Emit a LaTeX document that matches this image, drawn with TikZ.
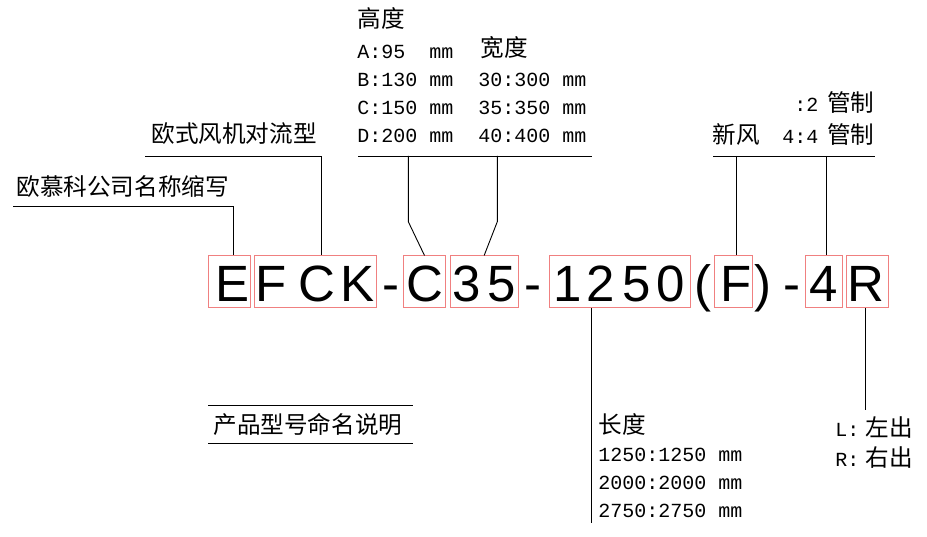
\documentclass[tikz,border=0pt]{standalone}
\usepackage{fontspec}
\setmainfont{Liberation Mono}
\newfontfamily\cjk[Scale=1.18]{Noto Sans CJK SC}
\newfontfamily\codefont{Liberation Sans}
\newcommand\zh[1]{{\cjk #1}}
\definecolor{boxred}{RGB}{240,128,128}

\begin{document}
\begin{tikzpicture}[
  x=1pt, y=-1pt,
  line width=0.9pt,
  codebox/.style={draw=boxred, line width=1pt, minimum height=52pt, inner sep=0pt},
  codechar/.style={font=\codefont\fontsize{51}{51}\selectfont, inner sep=0pt, anchor=base},
  txt/.style={font=\fontsize{20}{28}\selectfont, inner sep=0pt, anchor=base west},
  lbl/.style={txt, anchor=base east}
]
\useasboundingbox (0,0) rectangle (927,537);

% boxes round the parts of the code
\node[codebox, minimum width=41.7pt]  (bE)    at (229.15,282) {};
\node[codebox, minimum width=121.7pt] (bFCK)  at (315.15,282) {};
\node[codebox, minimum width=42.4pt]  (bC)    at (424.5,282) {};
\node[codebox, minimum width=68.3pt]  (bNum)  at (484.15,282) {};
\node[codebox, minimum width=141.7pt] (bLen)  at (619.85,282) {};
\node[codebox, minimum width=38pt]    (bF)    at (733.3,282) {};
\node[codebox, minimum width=37pt]    (bPipe) at (824.2,282) {};
\node[codebox, minimum width=42.3pt]  (bR)    at (867.15,282) {};

% the code itself
\foreach \ch/\x [count=\i] in {E/233, F/270.7, C/317, K/358, -/391, C/425, 3/466.7, 5/501.7, -/532.5,
    1/568, 2/601, 5/636.7, 0/671, {(}/703, F/736, {)}/763, -/792, 4/824, R/865.5}
  \node[codechar] (ch\i) at (\x,301.7) {\ch};

% height and width
\node[txt] (hgt) at (357,28) {\zh{高度}};
\foreach \t [count=\i] in {A:95~~mm, B:130 mm, C:150 mm, D:200 mm}
  \node[txt] (hgt\i) at (357,31+28*\i) {\t};
\node[txt] (wid) at (480,56.5) {\zh{宽度}};
\foreach \t [count=\i] in {30:300 mm, 35:350 mm, 40:400 mm}
  \node[txt] (wid\i) at (478,59+28*\i) {\t};
\coordinate (dimL) at (358,156);
\coordinate (dimR) at (592,156);
\coordinate (kinkC) at (408.3,221.7);
\coordinate (kinkN) at (497.3,221.7);
\draw (dimL) -- (dimR);
\draw (kinkC |- dimL) -- (kinkC) -- (bC.north);
\draw (kinkN |- dimL) -- (kinkN) -- (bNum.north);

% fresh air and pipes
\node[lbl] (pipe2) at (875,112) {:2\hspace{9pt}\zh{管制}};
\node[lbl] (pipe4) at (875,143.5) {4:4\hspace{9pt}\zh{管制}};
\node[txt] (fresh) at (712,143.5) {\zh{新风}};
\coordinate (pipeL) at (713,156);
\coordinate (pipeR) at (875,156);
\coordinate (tickF) at (736.5,156);
\coordinate (tick4) at (826.5,156);
\draw (pipeL) -- (pipeR);
\draw (tickF) -- (tickF |- bF.north);
\draw (tick4) -- (tick4 |- bPipe.north);

% brand and series
\node[txt] (series) at (151,143) {\zh{欧式风机对流型}};
\node[txt] (brand) at (16,196) {\zh{欧慕科公司名称缩写}};
\coordinate (seriesL) at (145,156);
\coordinate (brandL) at (13,206.7);
\draw (seriesL) -| ([xshift=6.6]bFCK.north);
\draw (brandL) -| ([xshift=4]bE.north);

% length
\coordinate (lenEnd) at (591.7,523);
\draw (lenEnd |- bLen.south) -- (lenEnd);
\node[txt] (len) at (598,433.5) {\zh{长度}};
\foreach \t [count=\i] in {1250:1250 mm, 2000:2000 mm, 2750:2750 mm}
  \node[txt] (len\i) at (598,433.7+28*\i) {\t};

% outlet side
\coordinate (outEnd) at (865,410);
\draw (outEnd |- bR.south) -- (outEnd);
\node[txt] (outL) at (835,436.5) {L:\hspace{6pt}\zh{左出}};
\node[txt] (outR) at (835,466) {R:\hspace{6pt}\zh{右出}};

% title
\node[txt] (title) at (213,433) {\zh{产品型号命名说明}};
\draw (208.3,405) -- (413.3,405) (208.3,443.3) -- (413.3,443.3);
\end{tikzpicture}
\end{document}
